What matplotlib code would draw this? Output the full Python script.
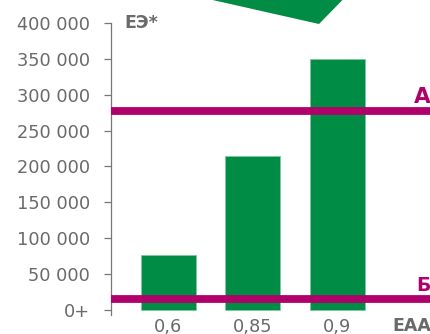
import matplotlib
matplotlib.use("Agg")
import matplotlib.pyplot as plt
from matplotlib.patches import Polygon

# Data
categories = ["0,6", "0,85", "0,9"]
values = [76000, 215000, 350000]
level_a = 277000
level_b = 15000
yticks = [0, 50000, 100000, 150000, 200000, 250000, 300000, 350000, 400000]
ytick_labels = ["0+", "50 000", "100 000", "150 000", "200 000",
                "250 000", "300 000", "350 000", "400 000"]

GREEN = "#008C45"
MAGENTA = "#B0006A"
GRAY = "#6a6a6a"

plt.rcParams["font.family"] = ["DejaVu Sans"]

fig = plt.figure(figsize=(4.31, 3.34), dpi=100)
ax = fig.add_axes([111 / 431, 1 - 315 / 334, 1 - 111 / 431, (315 - 23) / 334])

x = list(range(len(categories)))
ax.bar(x, values, width=0.65, color=GREEN, edgecolor="#7cc9a0", linewidth=0.6, zorder=2)

ax.axhline(level_a, color=MAGENTA, linewidth=5.6, zorder=3)
ax.axhline(level_b, color=MAGENTA, linewidth=5.6, zorder=3)

ax.set_xlim(-0.675, 3.11)
ax.set_ylim(-7000, 400000)

ax.set_yticks(yticks)
ax.set_yticklabels(ytick_labels)
ax.set_xticks(x)
ax.set_xticklabels(categories)

ax.tick_params(axis="y", length=5.2, width=0.9, color="#777777", pad=10,
               labelsize=12.8, labelcolor=GRAY)
ax.tick_params(axis="x", length=0, pad=2, labelsize=12.8, labelcolor=GRAY)

for side in ("top", "right", "bottom"):
    ax.spines[side].set_visible(False)
ax.spines["left"].set_color("#777777")
ax.spines["left"].set_linewidth(0.9)

# Level labels, sitting just above their lines
ax.annotate("А", xy=(1.0, level_a), xycoords=ax.get_yaxis_transform(),
            xytext=(0, 6), textcoords="offset points", ha="right", va="baseline",
            color=MAGENTA, fontsize=15.5, fontweight="bold")
ax.annotate("Б", xy=(1.0, level_b), xycoords=ax.get_yaxis_transform(),
            xytext=(0, 6), textcoords="offset points", ha="right", va="baseline",
            color=MAGENTA, fontsize=13.5, fontweight="bold")

# Axis titles
fig.text(124 / 431, 1 - 28 / 334, "ЕЭ*", ha="left", va="baseline",
         color=GRAY, fontsize=12.5, fontweight="bold")
fig.text(1.0, 1 - 331 / 334, "ЕАА", ha="right", va="baseline",
         color=GRAY, fontsize=12.5, fontweight="bold")

# Decorative green shape at the top edge
shape = Polygon([(183 / 431, 1.02), (319 / 431, 1 - 24 / 334), (349 / 431, 1.02)],
                closed=True, transform=fig.transFigure, facecolor=GREEN,
                edgecolor="none", clip_on=False)
fig.patches.append(shape)

fig.savefig("out.png", dpi=100)
